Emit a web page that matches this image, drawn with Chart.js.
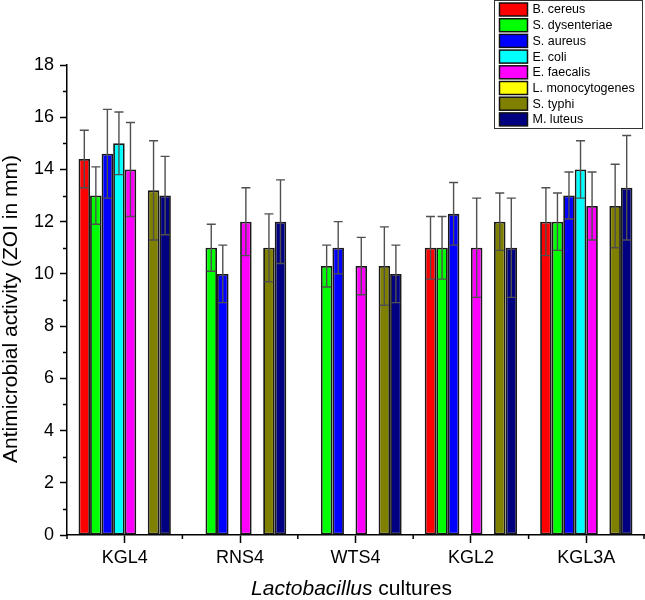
<!DOCTYPE html>
<html><head><meta charset="utf-8">
<script src="https://cdn.jsdelivr.net/npm/chart.js@4"></script>
<style>
html,body{margin:0;padding:0;background:#fff;}
#wrap{position:relative;width:645px;height:600px;}
#xtitle{position:absolute;left:63px;width:577px;top:576px;text-align:center;font:21px "Liberation Sans",Arial,sans-serif;color:#000;line-height:24px;}
</style></head><body>
<div id="wrap"><canvas id="c" width="645" height="600"></canvas><div id="xtitle"><i>Lactobacillus</i> cultures</div></div>
<script>
const categories = ['KGL4', 'RNS4', 'WTS4', 'KGL2', 'KGL3A'];
const seriesNames = ['B. cereus', 'S. dysenteriae', 'S. aureus', 'E. coli', 'E. faecalis', 'L. monocytogenes', 'S. typhi', 'M. luteus'];
const seriesColors = ['#FF0000', '#00FF00', '#0000FF', '#00FFFF', '#FF00FF', '#FFFF00', '#808000', '#000080'];
const bCereus        = [14.4, null, null, 11.0, 12.0];
const sDysenteriae   = [13.0, 11.0, 10.3, 11.0, 12.0];
const sAureus        = [14.6, 10.0, 11.0, 12.3, 13.0];
const eColi          = [15.0, null, null, null, 14.0];
const eFaecalis      = [14.0, 12.0, 10.3, 11.0, 12.6];
const lMonocytogenes = [null, null, null, null, null];
const sTyphi         = [13.2, 11.0, 10.3, 12.0, 12.6];
const mLuteus        = [13.0, 12.0, 10.0, 11.0, 13.3];
const bCereusErr        = [1.1, null, null, 1.2, 1.3];
const sDysenteriaeErr   = [1.1, 0.9, 0.8, 1.2, 1.1];
const sAureusErr        = [1.7, 1.1, 1.0, 1.2, 0.9];
const eColiErr          = [1.2, null, null, null, 1.1];
const eFaecalisErr      = [1.8, 1.3, 1.1, 1.9, 1.3];
const lMonocytogenesErr = [null, null, null, null, null];
const sTyphiErr         = [1.9, 1.3, 1.5, 1.1, 1.6];
const mLuteusErr        = [1.5, 1.6, 1.1, 1.9, 2.0];
const yTicks = [0, 2, 4, 6, 8, 10, 12, 14, 16, 18];
const yTitle = 'Antimicrobial activity (ZOI in mm)';

const seriesValues = [bCereus, sDysenteriae, sAureus, eColi, eFaecalis, lMonocytogenes, sTyphi, mLuteus];
const seriesErrors = [bCereusErr, sDysenteriaeErr, sAureusErr, eColiErr, eFaecalisErr, lMonocytogenesErr, sTyphiErr, mLuteusErr];
const FONT = '"Liberation Sans", Arial, sans-serif';

const errorBarPlugin = {
  id: 'errorBars',
  afterDatasetsDraw(chart) {
    const ctx = chart.ctx, y = chart.scales.y;
    chart.data.datasets.forEach((ds, i) => {
      const meta = chart.getDatasetMeta(i);
      meta.data.forEach((bar, j) => {
        const v = ds.data[j], e = ds.errors[j];
        if (v == null || e == null) return;
        const yt = y.getPixelForValue(v + e), yb = y.getPixelForValue(v - e);
        const cap = 4.5;
        ctx.save();
        ctx.strokeStyle = '#505050';
        ctx.lineWidth = 1.4;
        ctx.beginPath();
        ctx.moveTo(bar.x, yt); ctx.lineTo(bar.x, yb);
        ctx.moveTo(bar.x - cap, yt); ctx.lineTo(bar.x + cap, yt);
        ctx.moveTo(bar.x - cap, yb); ctx.lineTo(bar.x + cap, yb);
        ctx.stroke();
        ctx.restore();
      });
    });
  }
};

const minorTickPlugin = {
  id: 'minorTicks',
  afterDraw(chart) {
    const ctx = chart.ctx, x = chart.scales.x, y = chart.scales.y;
    ctx.save();
    ctx.strokeStyle = '#000';
    ctx.lineWidth = 1.5;
    ctx.beginPath();
    for (let v = y.min + 1; v < y.max; v += 2) {
      const py = Math.round(y.getPixelForValue(v)) + 0.5;
      ctx.moveTo(y.right - 4, py); ctx.lineTo(y.right, py);
    }
    const n = categories.length;
    const bounds = [x.left];
    for (let i = 1; i < n; i++) bounds.push((x.getPixelForValue(i - 1) + x.getPixelForValue(i)) / 2);
    bounds.push(x.right);
    bounds.forEach(bx => { ctx.moveTo(bx, x.top); ctx.lineTo(bx, x.top + 4); });
    ctx.stroke();
    // y axis title
    ctx.fillStyle = '#000';
    ctx.font = '21px ' + FONT;
    ctx.textAlign = 'center';
    ctx.textBaseline = 'middle';
    ctx.translate(11, (y.top + y.bottom) / 2 + 9);
    ctx.rotate(-Math.PI / 2);
    ctx.fillText(yTitle, 0, 0);
    ctx.restore();
  }
};

const legendPlugin = {
  id: 'boxLegend',
  afterDraw(chart) {
    const ctx = chart.ctx;
    const L = 494.5, T = 0.5, W = 148, H = 128, rowH = 15.7, first = 9;
    ctx.save();
    ctx.fillStyle = '#fff';
    ctx.fillRect(L, T, W, H);
    ctx.strokeStyle = '#333';
    ctx.lineWidth = 1;
    ctx.strokeRect(L, T, W, H);
    ctx.font = '12.5px ' + FONT;
    ctx.textBaseline = 'middle';
    chart.data.datasets.forEach((ds, i) => {
      const cy = T + first + i * rowH;
      ctx.fillStyle = ds.backgroundColor;
      ctx.fillRect(L + 5, cy - 6.5, 28, 13);
      ctx.strokeStyle = '#111';
      ctx.lineWidth = 1.5;
      ctx.strokeRect(L + 5, cy - 6.5, 28, 13);
      ctx.fillStyle = '#000';
      ctx.fillText(ds.label, L + 38, cy + 0.5);
    });
    ctx.restore();
  }
};

new Chart(document.getElementById('c'), {
  type: 'bar',
  data: {
    labels: categories,
    datasets: seriesNames.map((name, i) => ({
      label: name,
      data: seriesValues[i],
      errors: seriesErrors[i],
      backgroundColor: seriesColors[i],
      borderColor: '#1a1a1a',
      borderWidth: 1.8,
      borderSkipped: false,
      categoryPercentage: 0.8,
      barPercentage: 1.0
    }))
  },
  options: {
    responsive: false,
    animation: false,
    devicePixelRatio: 1,
    layout: { padding: { left: 0, right: 1, top: 65, bottom: 0 } },
    plugins: { legend: { display: false }, tooltip: { enabled: false } },
    scales: {
      x: {
        offset: true,
        grid: { display: true, offset: false, drawOnChartArea: false, tickLength: 8, tickColor: '#000', tickWidth: 1.5 },
        border: { display: true, color: '#000', width: 1.5 },
        ticks: { color: '#000', font: { size: 18, family: FONT }, padding: 4, maxRotation: 0 },
        afterFit(s) { s.height = 65; }
      },
      y: {
        min: 0, max: 18,
        afterBuildTicks(s) { s.ticks = yTicks.map(v => ({ value: v })); },
        grid: { display: true, drawOnChartArea: false, tickLength: 7, tickColor: '#000', tickWidth: 1.5 },
        border: { display: true, color: '#000', width: 1.5 },
        ticks: { color: '#000', font: { size: 18, family: FONT }, padding: 6 },
        title: { display: false },
        afterFit(s) { s.width = 67; }
      }
    }
  },
  plugins: [errorBarPlugin, minorTickPlugin, legendPlugin]
});
</script>
</body></html>
